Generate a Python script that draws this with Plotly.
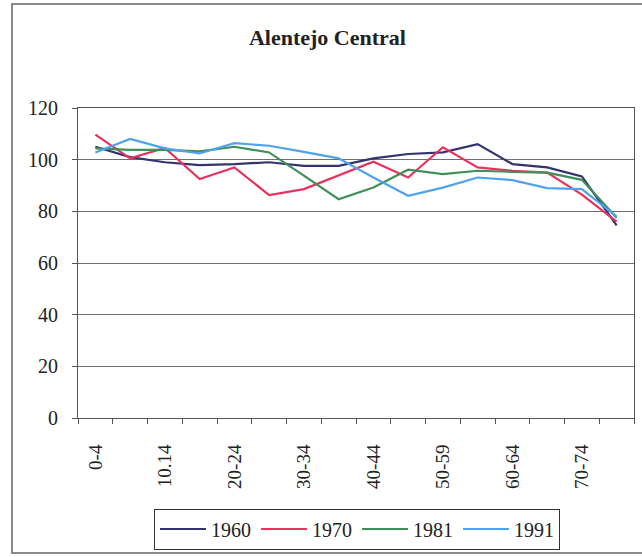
import plotly.graph_objects as go

age_groups = ["0-4", "5-9", "10.14", "15-19", "20-24", "25-29", "30-34", "35-39",
              "40-44", "45-49", "50-59", "55-59", "60-64", "65-69", "70-74", "75+"]
shown_labels = ["0-4", "10.14", "20-24", "30-34", "40-44", "50-59", "60-64", "70-74"]

years = ["1960", "1970", "1981", "1991"]
v1960 = [105, 101, 99, 97.9, 98.3, 99, 97.6, 97.6, 100.5, 102.2, 102.8, 106, 98.3, 97, 93.5, 74.6]
v1970 = [109.7, 100.5, 104.5, 92.5, 97, 86.3, 88.6, 93.8, 99.2, 93.1, 104.8, 97, 95.7, 95, 86.5, 76]
v1981 = [104.4, 103.8, 103.8, 103.2, 105, 102.8, 93.8, 84.7, 89.2, 96.1, 94.4, 95.7, 95.3, 95, 92.2, 77.5]
v1991 = [102.8, 108, 104.4, 102.4, 106.4, 105.4, 103, 100.5, 93.1, 86, 89.2, 93.1, 92.1, 89, 88.6, 78]
series = [v1960, v1970, v1981, v1991]
colors = ["#33336e", "#e8325c", "#3f8f58", "#4ea2ee"]

y_ticks = [0, 20, 40, 60, 80, 100, 120]

fig = go.Figure()
for name, vals, col in zip(years, series, colors):
    fig.add_trace(go.Scatter(x=age_groups, y=vals, mode="lines", name=name,
                             line=dict(color=col, width=2.2)))

ticktext = [a if a in shown_labels else "" for a in age_groups]

serif = "Liberation Serif, Times New Roman, serif"
fig.update_layout(
    width=642, height=557,
    margin=dict(l=78, r=8, t=108, b=139),
    paper_bgcolor="white", plot_bgcolor="white",
    font=dict(family=serif, size=20, color="#222222"),
    title=dict(text="<b>Alentejo Central</b>", x=0.51, xref="container", xanchor="center",
               y=1 - 37 / 557, yref="container", yanchor="middle",
               font=dict(family=serif, size=22, color="#222222")),
    showlegend=True,
    legend=dict(orientation="h", x=(357 - 78) / 556, xanchor="center",
                y=(418 - 529) / 310, yanchor="middle",
                bordercolor="#333333", borderwidth=1, bgcolor="white",
                font=dict(family=serif, size=20, color="#222222"),
                itemwidth=46, tracegroupgap=0),
    xaxis=dict(type="category", categoryorder="array", categoryarray=age_groups,
               range=[-0.5, len(age_groups) - 0.5],
               tickmode="array", tickvals=age_groups, ticktext=ticktext,
               tickson="boundaries", ticks="outside", ticklen=5, tickcolor="#555555",
               tickangle=-90, tickfont=dict(family=serif, size=19, color="#222222"),
               ticklabelstandoff=18,
               showline=True, linecolor="#555555", linewidth=1, mirror=True,
               showgrid=False, zeroline=False),
    yaxis=dict(range=[0, 120], tickmode="array", tickvals=y_ticks,
               ticks="outside", ticklen=5, tickcolor="#555555",
               tickfont=dict(family=serif, size=20, color="#222222"),
               ticklabelstandoff=10,
               showline=True, linecolor="#555555", linewidth=1, mirror=True,
               showgrid=True, gridcolor="#6e6e6e", gridwidth=1, zeroline=False),
)

# outer chart frame
fig.add_shape(type="rect", xref="paper", yref="paper",
              x0=(12 - 78) / 556, x1=(660 - 78) / 556,
              y0=(418 - 553) / 310, y1=(418 - 4) / 310,
              line=dict(color="#666666", width=1.5), fillcolor="rgba(0,0,0,0)", layer="below")

fig.write_html("out.html", config={"displayModeBar": False},
               post_script="document.body.style.margin='0';")
